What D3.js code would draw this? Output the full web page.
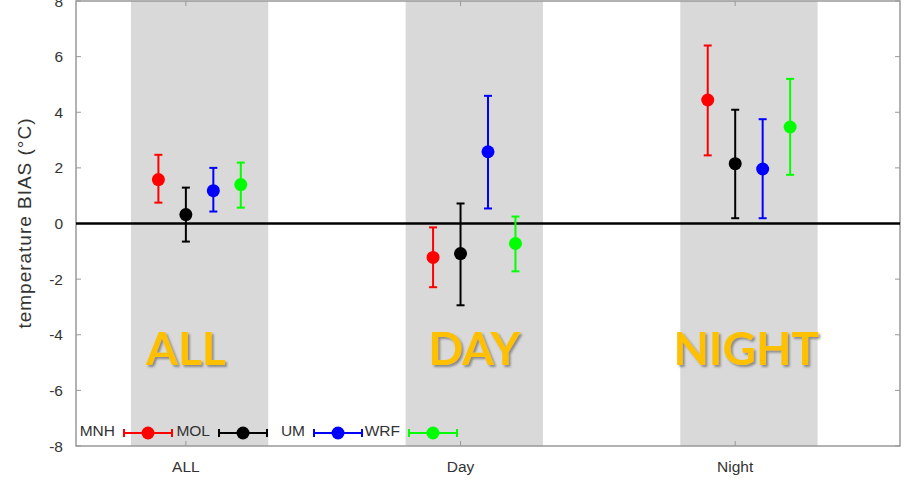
<!DOCTYPE html>
<html>
<head>
<meta charset="utf-8">
<script src="https://cdn.jsdelivr.net/npm/d3@7"></script>
<style>
  body { margin: 0; background: #fff; }
  svg { display: block; font-family: "Liberation Sans", Arial, sans-serif; }
</style>
</head>
<body>
<svg width="904" height="483"></svg>
<script>
// data
const categories = ['ALL', 'Day', 'Night'];
const bigLabels = ['ALL', 'DAY', 'NIGHT'];
const models = ['MNH', 'MOL', 'UM', 'WRF'];
const colors = ['#ff0000', '#000000', '#0000ff', '#00ff00'];
const mean = [
  [1.58, 0.32, 1.18, 1.40],
  [-1.22, -1.08, 2.58, -0.72],
  [4.44, 2.15, 1.96, 3.47]
];
const low = [
  [0.75, -0.65, 0.43, 0.57],
  [-2.29, -2.94, 0.54, -1.72],
  [2.45, 0.19, 0.19, 1.75]
];
const high = [
  [2.47, 1.29, 2.00, 2.19],
  [-0.14, 0.72, 4.59, 0.25],
  [6.40, 4.09, 3.75, 5.20]
];
const yTicks = [-8, -6, -4, -2, 0, 2, 4, 6, 8];

const svg = d3.select('svg');
const pLeft = 76, pRight = 900, pTop = 1, pBottom = 446;

const x = d3.scaleLinear().domain([0.6, 3.6]).range([pLeft, pRight]);
const y = d3.scaleLinear().domain([-8, 8]).range([pBottom, pTop]);
const offset = [-0.1, 0, 0.1, 0.2];
const labelShift = [0, 0.05, 0.04];

// shadow for the big labels
const defs = svg.append('defs');
defs.append('filter').attr('id', 'shadow')
  .attr('x', '-10%').attr('y', '-10%').attr('width', '130%').attr('height', '140%')
  .append('feDropShadow')
  .attr('dx', 2).attr('dy', 2).attr('stdDeviation', 1.2)
  .attr('flood-color', '#555').attr('flood-opacity', 0.6);

// gray bands
svg.append('g')
  .selectAll('rect')
  .data(categories)
  .join('rect')
  .attr('x', (d, i) => x(i + 1 - 0.2))
  .attr('y', pTop)
  .attr('width', (d, i) => x(i + 1.3) - x(i + 0.8))
  .attr('height', pBottom - pTop)
  .attr('fill', '#d9d9d9');

// frame
svg.append('rect')
  .attr('x', pLeft).attr('y', pTop)
  .attr('width', pRight - pLeft).attr('height', pBottom - pTop)
  .attr('fill', 'none')
  .attr('stroke', '#999')
  .attr('stroke-width', 1.5);

// y ticks (inward, both sides)
const yAxis = svg.append('g');
yTicks.forEach(t => {
  yAxis.append('line')
    .attr('x1', pLeft).attr('x2', pLeft + 5)
    .attr('y1', y(t)).attr('y2', y(t))
    .style('stroke', '#999');
  yAxis.append('line')
    .attr('x1', pRight).attr('x2', pRight - 5)
    .attr('y1', y(t)).attr('y2', y(t))
    .style('stroke', '#999');
  yAxis.append('text')
    .attr('x', 63)
    .attr('y', y(t))
    .attr('dy', '0.36em')
    .attr('text-anchor', 'end')
    .attr('font-size', 15.5)
    .attr('fill', '#333')
    .text(t);
});

// x ticks
categories.forEach((c, i) => {
  svg.append('line')
    .attr('x1', x(i + 1)).attr('x2', x(i + 1))
    .attr('y1', pTop).attr('y2', pTop + 5)
    .style('stroke', '#999');
  svg.append('line')
    .attr('x1', x(i + 1)).attr('x2', x(i + 1))
    .attr('y1', pBottom).attr('y2', pBottom - 5)
    .style('stroke', '#999');
  svg.append('text')
    .attr('x', x(i + 1))
    .attr('y', 472)
    .attr('text-anchor', 'middle')
    .attr('font-size', 15.5)
    .attr('fill', '#333')
    .text(c);
});

// y label
svg.append('text')
  .attr('transform', `translate(31,${y(0)}) rotate(-90)`)
  .attr('text-anchor', 'middle')
  .attr('font-size', 19)
  .attr('textLength', 210)
  .attr('lengthAdjust', 'spacing')
  .attr('fill', '#333')
  .text('temperature BIAS (°C)');

// zero line
svg.append('line')
  .attr('x1', pLeft).attr('x2', pRight)
  .attr('y1', y(0)).attr('y2', y(0))
  .style('stroke', '#000')
  .style('stroke-width', 2.5);

// big labels
svg.append('g')
  .selectAll('text')
  .data(bigLabels)
  .join('text')
  .attr('x', (d, i) => x(i + 1 + labelShift[i]))
  .attr('y', 365)
  .attr('text-anchor', 'middle')
  .attr('font-family', 'Lato, "Open Sans", sans-serif')
  .attr('font-weight', 'bold')
  .attr('font-size', 46)
  .attr('fill', '#ffc000')
  .attr('filter', 'url(#shadow)')
  .text(d => d);

// error bars and points
categories.forEach((c, i) => {
  models.forEach((m, j) => {
    const cx = x(i + 1 + offset[j]);
    const g = svg.append('g');
    g.append('line')
      .attr('x1', cx).attr('x2', cx)
      .attr('y1', y(low[i][j])).attr('y2', y(high[i][j]))
      .style('stroke', colors[j]).style('stroke-width', 2);
    [low[i][j], high[i][j]].forEach(v => {
      g.append('line')
        .attr('x1', cx - 4).attr('x2', cx + 4)
        .attr('y1', y(v)).attr('y2', y(v))
        .style('stroke', colors[j]).style('stroke-width', 2);
    });
    g.append('circle')
      .attr('cx', cx).attr('cy', y(mean[i][j]))
      .attr('r', 6.5)
      .attr('fill', colors[j]);
  });
});

// legend
const legend = svg.append('g');
const ly = 433;
models.forEach((m, j) => {
  const sx = 124 + j * 95;
  legend.append('text')
    .attr('x', sx - 9)
    .attr('y', ly)
    .attr('dy', '0.2em')
    .attr('text-anchor', 'end')
    .attr('font-size', 15.5)
    .attr('fill', '#333')
    .text(m);
  legend.append('line')
    .attr('x1', sx).attr('x2', sx + 48)
    .attr('y1', ly).attr('y2', ly)
    .style('stroke', colors[j]).style('stroke-width', 2);
  [sx, sx + 48].forEach(ex => {
    legend.append('line')
      .attr('x1', ex).attr('x2', ex)
      .attr('y1', ly - 4).attr('y2', ly + 4)
      .style('stroke', colors[j]).style('stroke-width', 2);
  });
  legend.append('circle')
    .attr('cx', sx + 24).attr('cy', ly)
    .attr('r', 6.5)
    .attr('fill', colors[j]);
});
</script>
</body>
</html>
